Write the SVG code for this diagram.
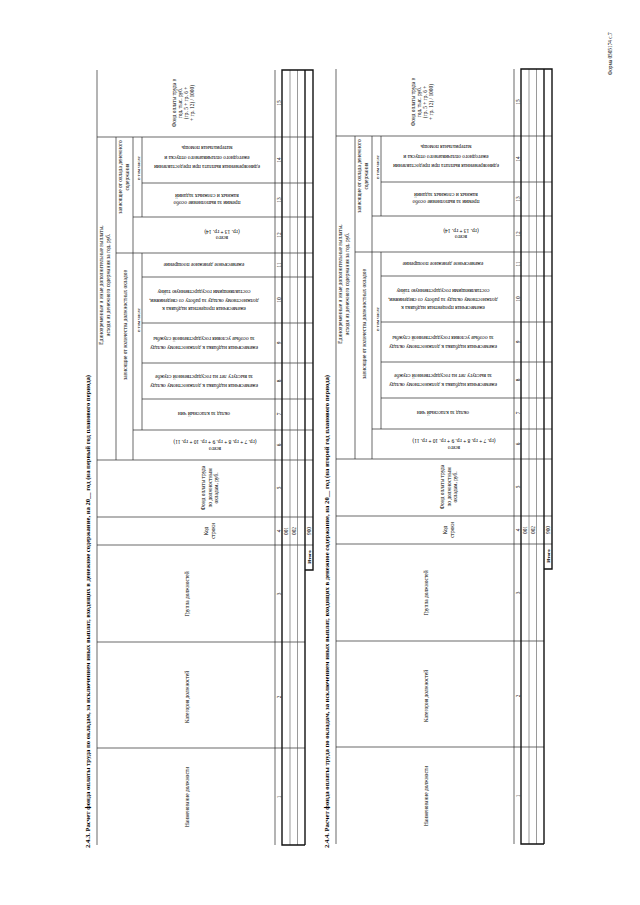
<svg xmlns="http://www.w3.org/2000/svg" width="640" height="905" viewBox="0 0 640 905">
<style>
text{font-family:"Liberation Serif","Times New Roman",serif;fill:#000}
.h{font-size:5.4px}
.s{font-size:4.8px}
.t{font-size:6.5px;font-weight:bold}
.n{font-size:5.3px}
.b{font-size:5px;font-weight:bold}
.ln{stroke:#2a2a2a;stroke-width:0.7;fill:none}
.lg{stroke:#555;stroke-width:0.6;fill:none}
.tk{stroke:#111;stroke-width:1.4;fill:none}
</style>
<rect width="640" height="905" fill="#fff"/>
<text id="form-label" class="n" transform="translate(612,75) rotate(-90)">Форма 0505174 с.7</text>

<g id="table-2-4-3">
<text class="t" transform="translate(90.3,848) rotate(-90)" textLength="473" lengthAdjust="spacingAndGlyphs">2.4.3. Расчет фонда оплаты труда по окладам, за исключением иных выплат, входящих в денежное содержание, на 20__ год (на первый год планового периода)</text>
<g id="grid-1">
<path class="ln" d="M97 70V845M275 70V845M116 137V460M133 137V460M142 137V217M142 253V430"/>
<path class="ln" d="M97 137H313M142 183H313M133 217H313M116 253H313M142 277H313M142 323H313M142 363H313M142 399H313M133 430H313M97 460H313M97 517H313M97 545H313M97 642H305M97 748H305"/>
<path class="lg" d="M290 70V845M297.5 70V845"/>
<path class="tk" d="M305 70V845M305 845H282V70H313V570H305"/>
</g>
<g id="head-1">
<text class="h" transform="translate(176,103) rotate(-90)" text-anchor="middle"><tspan x="0">Фонд оплаты труда в</tspan><tspan x="0" dy="6">год, тыс. руб.</tspan><tspan x="0" dy="6">(гр. 5 + гр. 6 +</tspan><tspan x="0" dy="6">+ гр. 12) / 1000)</tspan></text>
<text class="h" transform="translate(103,285) rotate(-90)" text-anchor="middle"><tspan x="0">Единовременные и иные дополнительные выплаты,</tspan><tspan x="0" dy="6.5">исходя из денежного содержания за год, руб.</tspan></text>
<text class="h" transform="translate(122,177) rotate(-90)" text-anchor="middle"><tspan x="0">зависящие от оклада денежного</tspan><tspan x="0" dy="6.5">содержания</tspan></text>
<text class="h" transform="translate(126.5,325) rotate(-90)" text-anchor="middle">зависящие от количества должностных окладов</text>
<text class="s" transform="translate(139.5,168) rotate(-90)" text-anchor="middle">в том числе</text>
<text class="s" transform="translate(139.5,320) rotate(-90)" text-anchor="middle">в том числе</text>
<text class="h" transform="translate(207,165.3) rotate(180)" text-anchor="middle"><tspan x="0">единовременная выплата при предоставлении</tspan><tspan x="0" dy="9.5">ежегодного оплачиваемого отпуска и</tspan><tspan x="0" dy="9.5">материальная помощь</tspan></text>
<text class="h" transform="translate(207,201.1) rotate(180)" text-anchor="middle"><tspan x="0">премии за выполнение особо</tspan><tspan x="0" dy="7.5">важных и сложных заданий</tspan></text>
<text class="h" transform="translate(222,236.1) rotate(180)" text-anchor="middle"><tspan x="0">всего</tspan><tspan x="0" dy="6.5">(гр. 13 + гр. 14)</tspan></text>
<text class="h" transform="translate(204,263.1) rotate(180)" text-anchor="middle">ежемесячное денежное поощрение</text>
<text class="h" transform="translate(204,307.1) rotate(180)" text-anchor="middle"><tspan x="0">ежемесячная процентная надбавка к</tspan><tspan x="0" dy="8.5">должностному окладу за работу со сведениями,</tspan><tspan x="0" dy="8.5">составляющими государственную тайну</tspan></text>
<text class="h" transform="translate(204,346.1) rotate(180)" text-anchor="middle"><tspan x="0">ежемесячная надбавка к должностному окладу</tspan><tspan x="0" dy="9">за особые условия государственной службы</tspan></text>
<text class="h" transform="translate(204,384.1) rotate(180)" text-anchor="middle"><tspan x="0">ежемесячная надбавка к должностному окладу</tspan><tspan x="0" dy="9">за выслугу лет на государственной службе</tspan></text>
<text class="h" transform="translate(204,412.1) rotate(180)" text-anchor="middle">оклад за классный чин</text>
<text class="h" transform="translate(215,447.1) rotate(180)" text-anchor="middle"><tspan x="0">всего</tspan><tspan x="0" dy="7">(гр. 7 + гр. 8 + гр. 9 + гр. 10 + гр. 11)</tspan></text>
<text class="h" transform="translate(205,488) rotate(-90)" text-anchor="middle"><tspan x="0">Фонд оплаты труда</tspan><tspan x="0" dy="6.5">по должностным</tspan><tspan x="0" dy="6.5">окладам, руб.</tspan></text>
<text class="h" transform="translate(207.5,531) rotate(-90)" text-anchor="middle"><tspan x="0">Код</tspan><tspan x="0" dy="7">строки</tspan></text>
<text class="h" transform="translate(189,594) rotate(-90)" text-anchor="middle">Группа должностей</text>
<text class="h" transform="translate(189,697) rotate(-90)" text-anchor="middle">Категория должностей</text>
<text class="h" transform="translate(189,797) rotate(-90)" text-anchor="middle">Наименование должности</text>
</g>
<g id="nums-1" class="n" text-anchor="middle">
<text transform="translate(280.8,797) rotate(-90)">1</text>
<text transform="translate(280.8,697) rotate(-90)">2</text>
<text transform="translate(280.8,594) rotate(-90)">3</text>
<text transform="translate(280.8,531) rotate(-90)">4</text>
<text transform="translate(280.8,488) rotate(-90)">5</text>
<text transform="translate(280.8,445) rotate(-90)">6</text>
<text transform="translate(280.8,414) rotate(-90)">7</text>
<text transform="translate(280.8,381) rotate(-90)">8</text>
<text transform="translate(280.8,343) rotate(-90)">9</text>
<text transform="translate(280.8,300) rotate(-90)">10</text>
<text transform="translate(280.8,265) rotate(-90)">11</text>
<text transform="translate(280.8,235) rotate(-90)">12</text>
<text transform="translate(280.8,200) rotate(-90)">13</text>
<text transform="translate(280.8,160) rotate(-90)">14</text>
<text transform="translate(280.8,103) rotate(-90)">15</text>
<text transform="translate(287.8,531) rotate(-90)">001</text>
<text transform="translate(295.5,531) rotate(-90)">002</text>
<text transform="translate(310.8,531) rotate(-90)">900</text>
<text class="b" transform="translate(311,557) rotate(-90)">Итого</text>
</g>
</g>

<g id="table-2-4-4" transform="translate(239,-1)">
<text class="t" transform="translate(90.3,849) rotate(-90)" textLength="473" lengthAdjust="spacingAndGlyphs">2.4.4. Расчет фонда оплаты труда по окладам, за исключением иных выплат, входящих в денежное содержание, на 20__ год (на второй год планового периода)</text>
<g id="grid-2">
<path class="ln" d="M97 70V845M275 70V845M116 137V460M133 137V460M142 137V217M142 253V430"/>
<path class="ln" d="M97 137H313M142 183H313M133 217H313M116 253H313M142 277H313M142 323H313M142 363H313M142 399H313M133 430H313M97 460H313M97 517H313M97 545H313M97 642H305M97 748H305"/>
<path class="lg" d="M290 70V845M297.5 70V845"/>
<path class="tk" d="M305 70V845M305 845H282V70H313V570H305"/>
</g>
<g id="head-2">
<text class="h" transform="translate(176,103) rotate(-90)" text-anchor="middle"><tspan x="0">Фонд оплаты труда в</tspan><tspan x="0" dy="6">год, тыс. руб.</tspan><tspan x="0" dy="6">(гр. 5 + гр. 6 +</tspan><tspan x="0" dy="6">+ гр. 12) / 1000)</tspan></text>
<text class="h" transform="translate(103,285) rotate(-90)" text-anchor="middle"><tspan x="0">Единовременные и иные дополнительные выплаты,</tspan><tspan x="0" dy="6.5">исходя из денежного содержания за год, руб.</tspan></text>
<text class="h" transform="translate(122,177) rotate(-90)" text-anchor="middle"><tspan x="0">зависящие от оклада денежного</tspan><tspan x="0" dy="6.5">содержания</tspan></text>
<text class="h" transform="translate(126.5,325) rotate(-90)" text-anchor="middle">зависящие от количества должностных окладов</text>
<text class="s" transform="translate(139.5,168) rotate(-90)" text-anchor="middle">в том числе</text>
<text class="s" transform="translate(139.5,320) rotate(-90)" text-anchor="middle">в том числе</text>
<text class="h" transform="translate(207,165.3) rotate(180)" text-anchor="middle"><tspan x="0">единовременная выплата при предоставлении</tspan><tspan x="0" dy="9.5">ежегодного оплачиваемого отпуска и</tspan><tspan x="0" dy="9.5">материальная помощь</tspan></text>
<text class="h" transform="translate(207,201.1) rotate(180)" text-anchor="middle"><tspan x="0">премии за выполнение особо</tspan><tspan x="0" dy="7.5">важных и сложных заданий</tspan></text>
<text class="h" transform="translate(222,236.1) rotate(180)" text-anchor="middle"><tspan x="0">всего</tspan><tspan x="0" dy="6.5">(гр. 13 + гр. 14)</tspan></text>
<text class="h" transform="translate(204,263.1) rotate(180)" text-anchor="middle">ежемесячное денежное поощрение</text>
<text class="h" transform="translate(204,307.1) rotate(180)" text-anchor="middle"><tspan x="0">ежемесячная процентная надбавка к</tspan><tspan x="0" dy="8.5">должностному окладу за работу со сведениями,</tspan><tspan x="0" dy="8.5">составляющими государственную тайну</tspan></text>
<text class="h" transform="translate(204,346.1) rotate(180)" text-anchor="middle"><tspan x="0">ежемесячная надбавка к должностному окладу</tspan><tspan x="0" dy="9">за особые условия государственной службы</tspan></text>
<text class="h" transform="translate(204,384.1) rotate(180)" text-anchor="middle"><tspan x="0">ежемесячная надбавка к должностному окладу</tspan><tspan x="0" dy="9">за выслугу лет на государственной службе</tspan></text>
<text class="h" transform="translate(204,412.1) rotate(180)" text-anchor="middle">оклад за классный чин</text>
<text class="h" transform="translate(215,447.1) rotate(180)" text-anchor="middle"><tspan x="0">всего</tspan><tspan x="0" dy="7">(гр. 7 + гр. 8 + гр. 9 + гр. 10 + гр. 11)</tspan></text>
<text class="h" transform="translate(205,488) rotate(-90)" text-anchor="middle"><tspan x="0">Фонд оплаты труда</tspan><tspan x="0" dy="6.5">по должностным</tspan><tspan x="0" dy="6.5">окладам, руб.</tspan></text>
<text class="h" transform="translate(207.5,531) rotate(-90)" text-anchor="middle"><tspan x="0">Код</tspan><tspan x="0" dy="7">строки</tspan></text>
<text class="h" transform="translate(189,594) rotate(-90)" text-anchor="middle">Группа должностей</text>
<text class="h" transform="translate(189,697) rotate(-90)" text-anchor="middle">Категория должностей</text>
<text class="h" transform="translate(189,797) rotate(-90)" text-anchor="middle">Наименование должности</text>
</g>
<g id="nums-2" class="n" text-anchor="middle">
<text transform="translate(280.8,797) rotate(-90)">1</text>
<text transform="translate(280.8,697) rotate(-90)">2</text>
<text transform="translate(280.8,594) rotate(-90)">3</text>
<text transform="translate(280.8,531) rotate(-90)">4</text>
<text transform="translate(280.8,488) rotate(-90)">5</text>
<text transform="translate(280.8,445) rotate(-90)">6</text>
<text transform="translate(280.8,414) rotate(-90)">7</text>
<text transform="translate(280.8,381) rotate(-90)">8</text>
<text transform="translate(280.8,343) rotate(-90)">9</text>
<text transform="translate(280.8,300) rotate(-90)">10</text>
<text transform="translate(280.8,265) rotate(-90)">11</text>
<text transform="translate(280.8,235) rotate(-90)">12</text>
<text transform="translate(280.8,200) rotate(-90)">13</text>
<text transform="translate(280.8,160) rotate(-90)">14</text>
<text transform="translate(280.8,103) rotate(-90)">15</text>
<text transform="translate(287.8,531) rotate(-90)">001</text>
<text transform="translate(295.5,531) rotate(-90)">002</text>
<text transform="translate(310.8,531) rotate(-90)">900</text>
<text class="b" transform="translate(311,557) rotate(-90)">Итого</text>
</g>
</g>
</svg>
